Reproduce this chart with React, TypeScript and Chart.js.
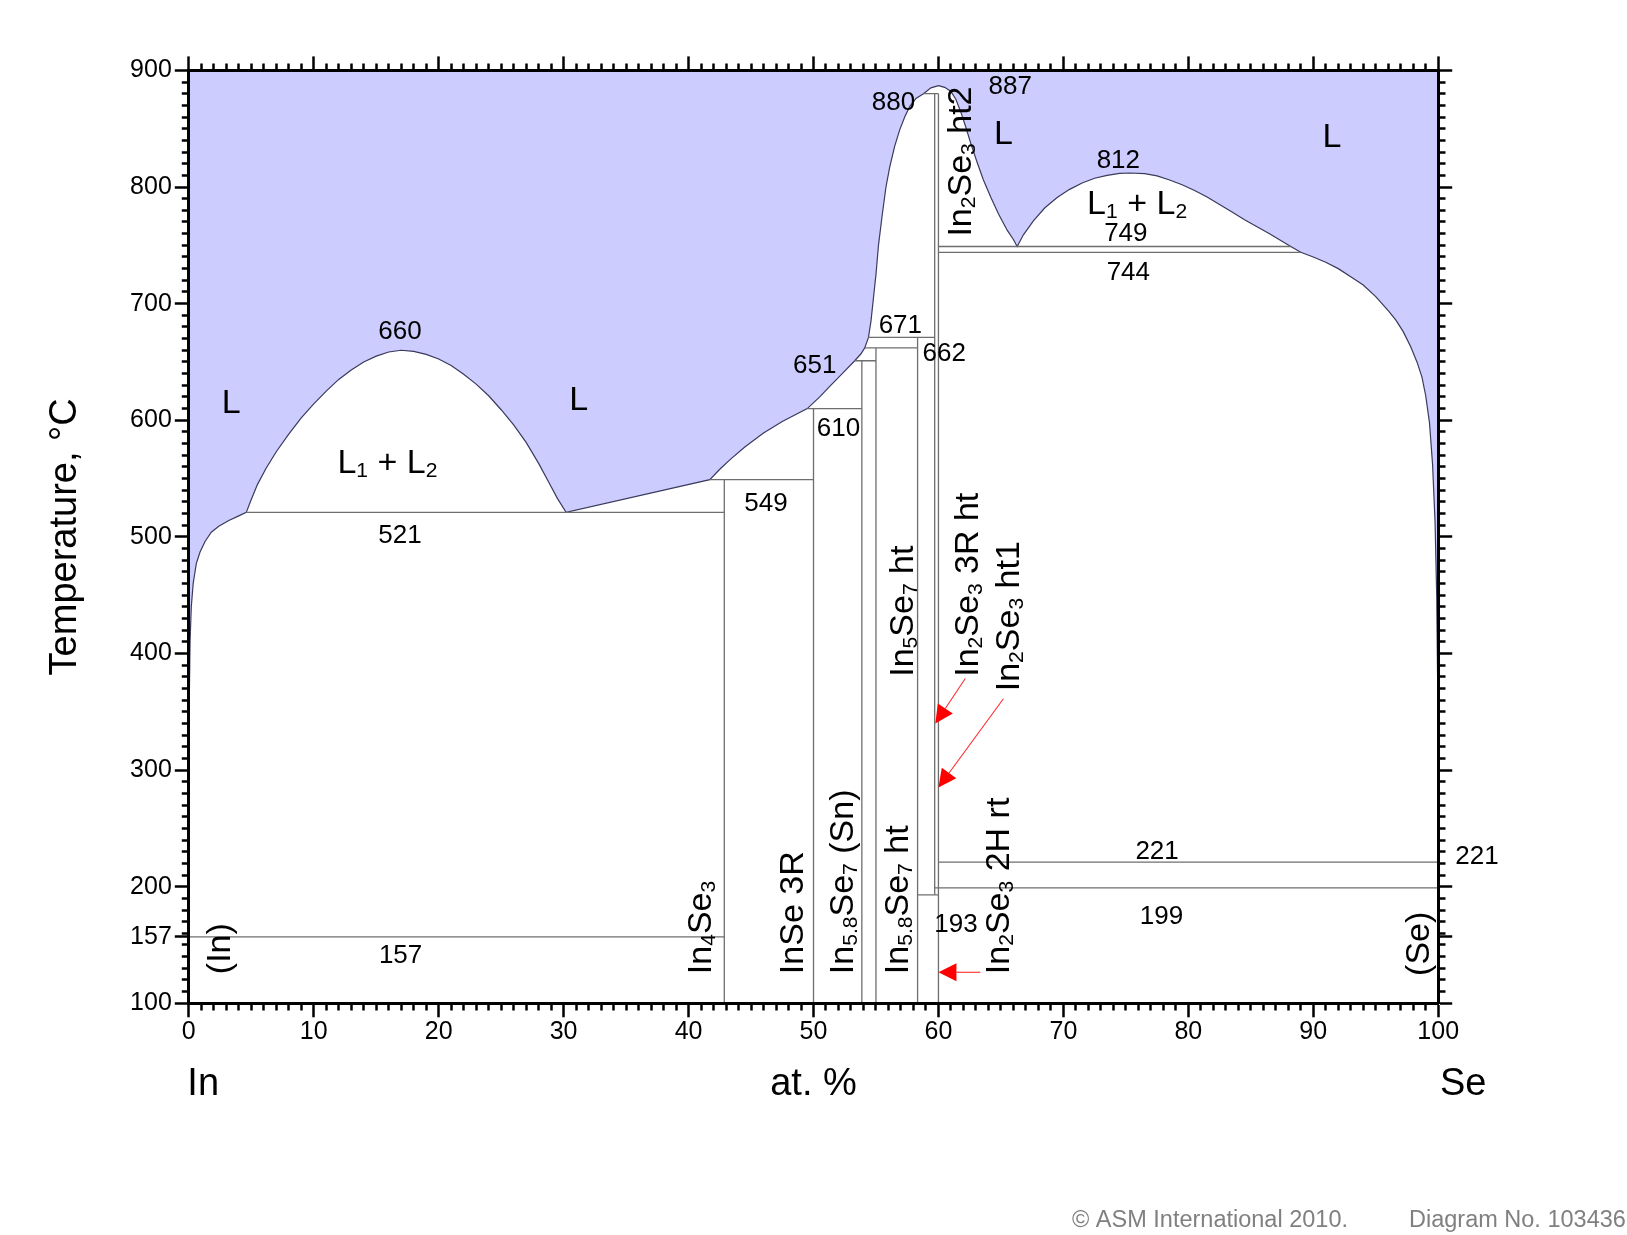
import React, { useEffect, useRef } from 'react';
import { Chart, registerables } from 'chart.js';

Chart.register(...registerables);

const W = 1627;
const H = 1235;
const FONT = "'Liberation Sans', Arial, Helvetica, sans-serif";

// plot frame (layout only)
const AREA_LEFT = 188.8;
const AREA_RIGHT = 1438.2;
const AREA_TOP = 70.4;
const AREA_BOTTOM = 1003.3;

// axes
const xTickLabels = [0, 10, 20, 30, 40, 50, 60, 70, 80, 90, 100];
const yTickLabels = [100, 157, 200, 300, 400, 500, 600, 700, 800, 900];
const xMinorStep = 1;
const yMinorStep = 10;

// liquidus boundary [at.% Se, T °C]
const liquidus: [number, number][] = [
  [0, 157], [0.02, 300], [0.05, 370], [0.1, 410], [0.2, 440], [0.35, 460], [0.6, 477], [0.9, 487],
  [1.3, 496], [1.8, 504], [2.4, 509], [3.2, 514], [4.0, 518], [4.6, 521],
  [5.0, 532], [5.5, 545], [6.2, 559], [7.0, 573], [8.0, 588], [9.0, 602], [10.0, 614], [11.0, 625],
  [12.0, 635], [13.0, 643], [14.0, 650], [15.0, 655], [16.0, 658.5], [17.0, 660], [18.0, 659],
  [19.0, 656.5], [20.0, 652.5], [21.0, 647], [22.0, 639.5], [23.0, 631], [24.0, 621], [25.0, 609],
  [26.0, 596], [27.0, 581], [28.0, 563], [28.8, 547], [29.5, 533], [30.2, 521],
  [41.7, 549], [42.5, 558], [43.3, 566], [44.5, 577], [46.0, 589], [47.5, 599], [49.5, 610],
  [50.5, 620], [51.3, 629], [52.3, 640], [53.3, 651], [53.8, 657], [54.1, 662], [54.4, 671],
  [54.6, 685], [54.8, 705], [55.0, 725], [55.2, 750], [55.5, 776], [55.8, 800], [56.1, 817],
  [56.5, 835], [56.9, 849], [57.3, 860], [57.7, 869], [58.2, 876], [58.8, 880], [59.4, 885], [60.0, 887],
  [60.5, 885.5], [61.0, 882], [61.4, 875], [61.8, 864], [62.2, 851], [62.6, 837], [63.1, 821],
  [63.6, 806], [64.2, 791], [64.8, 777], [65.5, 763], [66.0, 755], [66.3, 749],
  [66.8, 759], [67.6, 771], [68.5, 782], [69.5, 791], [70.5, 798], [71.5, 803.5], [72.5, 807.5],
  [73.5, 810], [74.5, 811.7], [75.3, 812], [76.5, 811.5], [77.5, 809.5], [78.5, 806], [79.5, 802],
  [80.5, 797], [81.5, 791.5], [82.5, 785], [83.5, 778.5], [84.5, 772], [85.5, 766], [86.5, 760],
  [87.5, 753.5], [88.2, 749],
  [89.0, 744], [90.0, 740], [91.0, 735.5], [92.0, 730], [93.0, 723], [94.0, 716], [95.0, 706],
  [96.0, 694], [96.6, 686], [97.2, 676], [97.8, 663], [98.3, 650], [98.7, 637], [99.0, 621],
  [99.3, 598], [99.55, 562], [99.75, 512], [99.88, 450], [99.95, 380], [100, 221],
];

// horizontal invariant lines [T, from x, to x]
const isotherms: [number, number, number][] = [
  [157, 0, 42.86],
  [521, 4.6, 42.86],
  [549, 41.7, 50],
  [610, 49.5, 53.87],
  [651, 53.3, 55.0],
  [662, 54.1, 58.33],
  [671, 54.4, 59.7],
  [880, 58.8, 60],
  [749, 60, 88.2],
  [744, 60, 89.0],
  [221, 60, 100],
  [199, 59.7, 100],
  [193, 58.33, 60],
];

// vertical compound lines [x, from T, to T]
const compounds: [number, number, number][] = [
  [42.86, 100, 549],
  [50, 100, 610],
  [53.87, 100, 651],
  [55.0, 100, 662],
  [58.33, 100, 671],
  [59.7, 193, 880],
  [60, 100, 880],
];

// temperature labels [text, x, T]
const tempLabels: [string, number, number][] = [
  ['660', 16.9, 678], ['521', 16.9, 503], ['157', 16.95, 142.7], ['549', 46.2, 530.3],
  ['651', 50.1, 648.4], ['610', 52.0, 594.6], ['671', 56.95, 683.2], ['662', 60.46, 658.4],
  ['880', 56.4, 874], ['887', 65.75, 887.5], ['812', 74.4, 824.7], ['749', 75.0, 761.8],
  ['744', 75.2, 728], ['221', 77.5, 231.8], ['199', 77.85, 176.1], ['193', 61.4, 169.4],
  ['221', 103.1, 227.5],
];

// phase field labels [text, x, T]
const phaseLabels: [string, number, number][] = [
  ['L', 3.4, 617], ['L', 31.2, 619], ['L', 65.2, 847.5], ['L', 91.5, 844.6],
  ['L_1 + L_2', 15.9, 565], ['L_1 + L_2', 75.9, 787.5],
];

// vertical phase labels [text, x, T at start of text]
const rotatedLabels: [string, number, number][] = [
  ['(In)', 2.35, 125], ['In_4Se_3', 40.8, 125], ['InSe 3R', 48.2, 125],
  ['In_5.8Se_7 (Sn)', 52.2, 125], ['In_5.8Se_7 ht', 56.55, 125], ['In_5Se_7 ht', 56.97, 380],
  ['In_2Se_3 3R ht', 62.2, 380], ['In_2Se_3 ht1', 65.5, 367.6], ['In_2Se_3 2H rt', 64.7, 125],
  ['In_2Se_3 ht2', 61.6, 757.5], ['(Se)', 98.3, 123.5],
];

// red arrows [x from, T from, x to, T to]
const arrows: [number, number, number, number][] = [
  [62.15, 378.5, 59.75, 340],
  [65.2, 361.2, 60.0, 285],
  [63.35, 126.6, 60.0, 126.6],
];

// end-member labels under the axis [text, x]
const elementLabels: [string, number][] = [['In', 1.15], ['Se', 102.0]];

const xTickValues: number[] = [];
for (let v = 0; v <= 100; v += xMinorStep) xTickValues.push(v);
const yTickValues: number[] = [];
for (let v = 100; v <= 900; v += yMinorStep) yTickValues.push(v);
yTickValues.push(157);
yTickValues.sort((a, b) => a - b);

const isMajorX = (v: number) => xTickLabels.includes(v);
const isMajorY = (v: number) => yTickLabels.includes(v);

const MAJOR = 14;
const MINOR = 5.5;
const BORDER = 3;
const VIS = MAJOR - BORDER / 2;
const dashOuterFirst = [0, VIS - MINOR, MINOR, 200];
const dashInnerFirst = [MINOR, 200];

const LINE_COLOR = '#6e6e6e';
const CURVE_COLOR = '#3a3a5c';
const FILL_COLOR = '#ccccff';

type Part = { t: string; sub: boolean };
function parseRich(text: string): Part[] {
  const parts: Part[] = [];
  const re = /_([0-9.]+)/g;
  let last = 0;
  let m: RegExpExecArray | null;
  while ((m = re.exec(text))) {
    if (m.index > last) parts.push({ t: text.slice(last, m.index), sub: false });
    parts.push({ t: m[1], sub: true });
    last = re.lastIndex;
  }
  if (last < text.length) parts.push({ t: text.slice(last), sub: false });
  return parts;
}
function richWidth(ctx: CanvasRenderingContext2D, parts: Part[], size: number) {
  let w = 0;
  for (const p of parts) {
    ctx.font = `${p.sub ? size * 0.62 : size}px ${FONT}`;
    w += ctx.measureText(p.t).width;
  }
  return w;
}
function drawRich(ctx: CanvasRenderingContext2D, parts: Part[], x0: number, base: number, size: number) {
  let x = x0;
  ctx.textBaseline = 'alphabetic';
  ctx.textAlign = 'left';
  for (const p of parts) {
    ctx.font = `${p.sub ? size * 0.62 : size}px ${FONT}`;
    ctx.fillText(p.t, x, base + (p.sub ? size * 0.12 : 0));
    x += ctx.measureText(p.t).width;
  }
}

const annotationPlugin = {
  id: 'phaseAnnotations',
  afterDraw(chart: any) {
    const ctx: CanvasRenderingContext2D = chart.ctx;
    const xs = chart.scales.x;
    const ys = chart.scales.y;
    const px = (v: number) => xs.getPixelForValue(v);
    const py = (v: number) => ys.getPixelForValue(v);
    ctx.save();

    // arrows
    for (const [x1, t1, x2, t2] of arrows) {
      const ax = px(x1), ay = py(t1), bx = px(x2), by = py(t2);
      const dx = bx - ax, dy = by - ay;
      const len = Math.hypot(dx, dy);
      const ux = dx / len, uy = dy / len;
      const hl = 18, hw = 9;
      const cx = bx - ux * hl, cy = by - uy * hl;
      ctx.strokeStyle = '#ff2a2a';
      ctx.lineWidth = 1.1;
      ctx.beginPath();
      ctx.moveTo(ax, ay);
      ctx.lineTo(cx, cy);
      ctx.stroke();
      ctx.fillStyle = '#ff0000';
      ctx.beginPath();
      ctx.moveTo(bx, by);
      ctx.lineTo(cx - uy * hw, cy + ux * hw);
      ctx.lineTo(cx + uy * hw, cy - ux * hw);
      ctx.closePath();
      ctx.fill();
    }

    ctx.fillStyle = '#000';
    // temperature numbers
    for (const [text, x, t] of tempLabels) {
      const size = 26;
      const parts = parseRich(text);
      const w = richWidth(ctx, parts, size);
      drawRich(ctx, parts, px(x) - w / 2, py(t) + size * 0.358, size);
    }
    // phase labels
    for (const [text, x, t] of phaseLabels) {
      const size = 34;
      const parts = parseRich(text);
      const w = richWidth(ctx, parts, size);
      drawRich(ctx, parts, px(x) - w / 2, py(t) + size * 0.358, size);
    }
    // rotated labels
    for (const [text, x, t] of rotatedLabels) {
      const size = 34;
      const parts = parseRich(text);
      ctx.save();
      ctx.translate(px(x), py(t));
      ctx.rotate(-Math.PI / 2);
      drawRich(ctx, parts, 0, size * 0.358, size);
      ctx.restore();
    }
    // element labels
    for (const [text, x] of elementLabels) {
      ctx.font = `38px ${FONT}`;
      ctx.textAlign = 'center';
      ctx.textBaseline = 'middle';
      ctx.fillText(text, px(x), AREA_BOTTOM + 81);
    }
    // credits
    ctx.fillStyle = '#808080';
    ctx.font = `23.5px ${FONT}`;
    ctx.textAlign = 'left';
    ctx.textBaseline = 'middle';
    ctx.fillText('\u00A9 ASM International 2010.', 1072, 1221);
    ctx.fillText('Diagram No. 103436', 1409, 1221);
    ctx.restore();
  },
};

function tickGrid(isMajor: (v: number) => boolean, dash: number[]) {
  return {
    display: true,
    drawOnChartArea: false,
    drawTicks: true,
    tickLength: MAJOR,
    tickWidth: 2.5,
    tickColor: '#000',
    tickBorderDash: (c: any) => (!c || !c.tick || isMajor(c.tick.value) ? [] : dash),
  };
}
const borderOpts = { display: true, color: '#000', width: BORDER, z: 1 };

export default function App() {
  const ref = useRef<HTMLCanvasElement>(null);
  useEffect(() => {
    const canvas = ref.current;
    if (!canvas) return;
    Chart.defaults.font.family = FONT;
    Chart.defaults.color = '#000';

    const datasets: any[] = [
      {
        label: 'liquidus',
        data: liquidus.map(([x, t]) => ({ x, y: t })),
        borderColor: CURVE_COLOR,
        borderWidth: 1.2,
        backgroundColor: FILL_COLOR,
        fill: 'end',
        pointRadius: 0,
        tension: 0,
        order: 2,
      },
      ...isotherms.map(([t, a, b]) => ({
        data: [{ x: a, y: t }, { x: b, y: t }],
        borderColor: LINE_COLOR,
        borderWidth: 1.3,
        fill: false,
        pointRadius: 0,
        order: 1,
      })),
      ...compounds.map(([xv, t1, t2]) => ({
        data: [{ x: xv, y: t1 }, { x: xv, y: t2 }],
        borderColor: LINE_COLOR,
        borderWidth: 1.3,
        fill: false,
        pointRadius: 0,
        order: 1,
      })),
    ];

    const chart = new Chart(canvas, {
      type: 'line',
      data: { datasets },
      plugins: [annotationPlugin],
      options: {
        animation: false,
        responsive: false,
        devicePixelRatio: 1,
        layout: { padding: 0 },
        plugins: {
          legend: { display: false },
          tooltip: { enabled: false },
        },
        elements: { point: { radius: 0 }, line: { tension: 0 } },
        scales: {
          x: {
            type: 'linear',
            position: 'bottom',
            min: 0,
            max: 100,
            afterBuildTicks: (s: any) => { s.ticks = xTickValues.map((v) => ({ value: v })); },
            afterFit: (s: any) => { s.height = H - AREA_BOTTOM; },
            ticks: {
              autoSkip: false,
              maxRotation: 0,
              minRotation: 0,
              padding: 0,
              color: '#000',
              font: { size: 25, family: FONT },
              callback: (v: any) => (isMajorX(Number(v)) ? String(v) : ''),
            },
            grid: tickGrid(isMajorX, dashInnerFirst),
            border: borderOpts,
            title: {
              display: true,
              text: 'at. %',
              color: '#000',
              font: { size: 38, family: FONT },
              padding: { top: 0, bottom: 128 },
            },
          },
          x2: {
            type: 'linear',
            position: 'top',
            min: 0,
            max: 100,
            afterBuildTicks: (s: any) => { s.ticks = xTickValues.map((v) => ({ value: v })); },
            afterFit: (s: any) => { s.height = AREA_TOP; },
            ticks: { display: false, autoSkip: false },
            grid: tickGrid(isMajorX, dashOuterFirst),
            border: borderOpts,
          },
          y: {
            type: 'linear',
            position: 'left',
            min: 100,
            max: 900,
            afterBuildTicks: (s: any) => { s.ticks = yTickValues.map((v) => ({ value: v })); },
            afterFit: (s: any) => { s.width = AREA_LEFT; },
            ticks: {
              autoSkip: false,
              padding: 3,
              color: '#000',
              font: { size: 25, family: FONT },
              callback: (v: any) => (isMajorY(Number(v)) ? String(v) : ''),
            },
            grid: tickGrid(isMajorY, dashOuterFirst),
            border: borderOpts,
            title: {
              display: true,
              text: 'Temperature, \u00B0C',
              color: '#000',
              font: { size: 38, family: FONT },
              padding: { top: 43, bottom: 0 },
            },
          },
          y2: {
            type: 'linear',
            position: 'right',
            min: 100,
            max: 900,
            afterBuildTicks: (s: any) => { s.ticks = yTickValues.map((v) => ({ value: v })); },
            afterFit: (s: any) => { s.width = W - AREA_RIGHT; },
            ticks: { display: false, autoSkip: false },
            grid: tickGrid(isMajorY, dashInnerFirst),
            border: borderOpts,
          },
        },
      } as any,
    });
    return () => chart.destroy();
  }, []);

  return (
    <div style={{ position: 'absolute', left: 0, top: 0, width: W, height: H, background: '#fff' }}>
      <canvas ref={ref} width={W} height={H} style={{ display: 'block', width: W, height: H }} />
    </div>
  );
}
